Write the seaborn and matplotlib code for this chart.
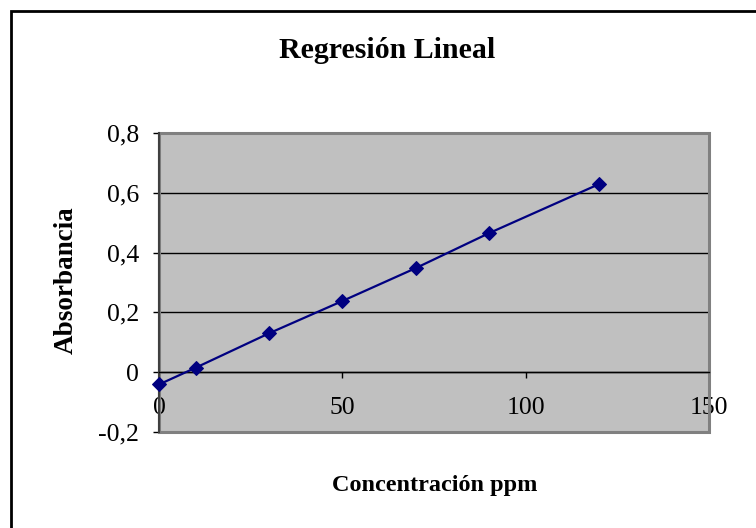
import matplotlib
matplotlib.use("Agg")
import matplotlib.pyplot as plt
import seaborn as sns
import pandas as pd
from matplotlib.patches import Rectangle
from matplotlib.ticker import FuncFormatter, FixedLocator

# Data
concentracion = [0, 10, 30, 50, 70, 90, 120]
absorbancia = [-0.041, 0.015, 0.130, 0.238, 0.348, 0.465, 0.629]
x_ticks = [0, 50, 100, 150]
y_ticks = [-0.2, 0, 0.2, 0.4, 0.6, 0.8]

title = "Regresión Lineal"
xlabel = "Concentración ppm"
ylabel = "Absorbancia"

df = pd.DataFrame({"x": concentracion, "y": absorbancia})

plt.rcParams["font.family"] = ["Liberation Serif", "DejaVu Serif"]

W, H = 756, 528
fig = plt.figure(figsize=(W / 100, H / 100), dpi=100)
fig.patch.set_facecolor("white")

# outer chart border (extends past right/bottom edges)
fig.patches.append(Rectangle((11 / W, -0.05), 1.2, 1 - 10.5 / H + 0.05,
                             transform=fig.transFigure, fill=False,
                             edgecolor="black", linewidth=2, zorder=0))

left, top, right, bottom = 159, 133, 709, 432
ax = fig.add_axes([left / W, 1 - bottom / H, (right - left) / W, (bottom - top) / H])
ax.set_facecolor("#C0C0C0")

sns.lineplot(data=df, x="x", y="y", ax=ax, color="#000080", marker="D",
             markersize=7, markeredgecolor="#000080", linewidth=1.6,
             zorder=5, clip_on=False)

ax.set_xlim(0, 150)
ax.set_ylim(-0.2, 0.8)
ax.xaxis.set_major_locator(FixedLocator(x_ticks))
ax.yaxis.set_major_locator(FixedLocator(y_ticks))

def yfmt(v, pos):
    if abs(v) < 1e-9:
        return "0"
    return ("%.1f" % v).replace(".", ",")

ax.yaxis.set_major_formatter(FuncFormatter(yfmt))
ax.xaxis.set_major_formatter(FuncFormatter(lambda v, p: "%d" % v))

ax.yaxis.grid(True, color="black", linewidth=1.0, zorder=1)
ax.set_axisbelow(True)

for s in ["top", "right"]:
    ax.spines[s].set_visible(False)
ax.spines["bottom"].set_position(("data", 0))
ax.spines["bottom"].set_color("black")
ax.spines["bottom"].set_linewidth(1.0)
ax.spines["left"].set_color("#404040")
ax.spines["left"].set_linewidth(1.5)

# gray plot-area frame
ax.add_patch(Rectangle((0, 0), 1, 1, transform=ax.transAxes, fill=False,
                       edgecolor="#808080", linewidth=2.2, zorder=2, clip_on=False))

ax.tick_params(axis="y", direction="out", length=4.5, width=1, color="black",
               labelsize=18.5, pad=10)
ax.tick_params(axis="x", direction="out", length=4.5, width=1, color="black",
               labelsize=18.5, pad=13)

ax.set_xlabel("")
ax.set_ylabel("")

fig.text(387 / W, 1 - 50 / H, title, ha="center", va="center",
         fontsize=21.5, fontweight="bold")
fig.text(66 / W, 1 - 280 / H, ylabel, ha="center", va="center",
         rotation=90, fontsize=19.5, fontweight="bold")
fig.text(435 / W, 1 - 486 / H, xlabel, ha="center", va="center",
         fontsize=17.5, fontweight="bold")

fig.savefig("out.png", dpi=100)
